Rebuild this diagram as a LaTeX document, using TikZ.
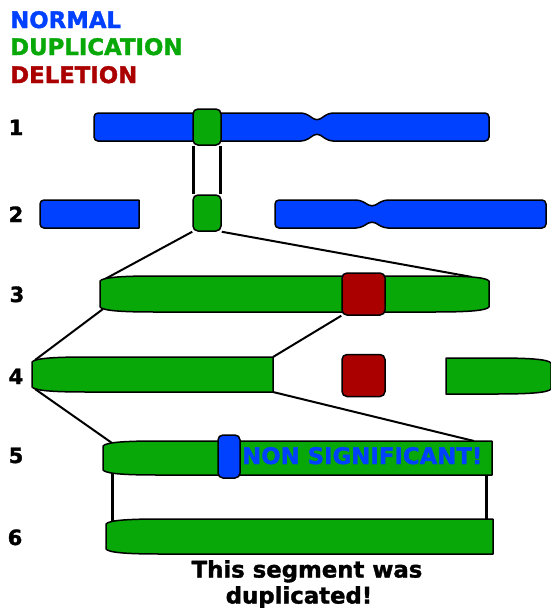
\documentclass[tikz,border=0pt]{standalone}
\usepackage{fontspec}
\setmainfont{DejaVu Sans}
\newfontfamily\heavyfont{DejaVu Sans}[BoldFeatures={FakeBold=1.5}]
\usetikzlibrary{backgrounds}
\definecolor{normalblue}{RGB}{0,64,255}
\definecolor{dupgreen}{RGB}{8,168,8}
\definecolor{delred}{RGB}{170,0,0}
\tikzset{
  chromo/.style={draw=black, line width=1.5pt, line join=round},
  normalchrom/.style={chromo, fill=normalblue},
  dupchrom/.style={chromo, fill=dupgreen},
  segbox/.style={draw=black, line width=1.5pt, rounded corners=5pt, inner sep=0pt},
  dupbox/.style={segbox, fill=dupgreen, minimum width=28pt, minimum height=36pt},
  delbox/.style={segbox, fill=delred, minimum width=43pt, minimum height=42pt},
  markbox/.style={segbox, fill=normalblue, minimum width=22pt, minimum height=43pt},
  heavytext/.style={font=\heavyfont\fontsize{22.8}{26}\selectfont\bfseries, inner sep=0pt},
  legend/.style={heavytext, anchor=base west},
  rowlabel/.style={font=\heavyfont\fontsize{21}{25}\selectfont\bfseries, anchor=base, inner sep=0pt},
  link/.style={draw=black, line width=2pt},
  tether/.style={draw=black, line width=3pt},
}
\begin{document}
\begin{tikzpicture}[x=1pt, y=-1pt]
\useasboundingbox (0,0) rectangle (550,608);

% legend
\node[legend, text=normalblue] (lnormal) at (10,28) {NORMAL};
\node[legend, text=dupgreen]   (ldup)    at (10,55) {DUPLICATION};
\node[legend, text=delred]     (ldel)    at (10,83) {DELETION};

% row numbers
\node[rowlabel] (n1) at (16,135) {1};
\node[rowlabel] (n2) at (16,222) {2};
\node[rowlabel] (n3) at (17,302) {3};
\node[rowlabel] (n4) at (16,384) {4};
\node[rowlabel] (n5) at (16,463) {5};
\node[rowlabel] (n6) at (15,545) {6};

% row 1: normal chromosome with centromere
\draw[normalchrom, rounded corners=4pt]
  (94,113) -- (305,113) -- (317,121) -- (329,113) -- (489,113) -- (489,141)
  -- (329,141) -- (317,133) -- (305,141) -- (94,141) -- cycle;
\node[dupbox] (g1) at (207,127) {};

% row 2: the segment cut out
\draw[normalchrom]
  (139,200) -- (139,228) -- (44,228) .. controls (41.8,228) and (40,226.2) .. (40,224)
  -- (40,204) .. controls (40,201.8) and (41.8,200) .. (44,200) -- cycle;
\draw[normalchrom, rounded corners=4pt]
  (275,200) -- (360,200) -- (372,207) -- (384,200) -- (546,200) -- (546,228)
  -- (384,228) -- (372,221) -- (360,228) -- (275,228) -- cycle;
\node[dupbox] (g2) at (207,213) {};

% row 3: duplicated segment, magnified
\draw[dupchrom]
  (100,281) .. controls (103,277) and (125,276) .. (155,276) -- (434,276)
  .. controls (464,276) and (486,277) .. (489,281) -- (489,307)
  .. controls (486,311) and (464,312) .. (434,312) -- (155,312)
  .. controls (125,312) and (103,311) .. (100,307) -- cycle;
\node[delbox] (r3) at (363.5,294) {};
\coordinate (c3tl) at (105,279);
\coordinate (c3tr) at (472,277);
\coordinate (c3bl) at (103,309);

% row 4: deletion inside the segment
\draw[dupchrom]
  (32,362) .. controls (35,358) and (57,357) .. (87,357) -- (273,357)
  -- (273,392) -- (87,392) .. controls (57,392) and (35,391) .. (32,387) -- cycle;
\node[delbox] (r4) at (363.5,375.5) {};
\draw[dupchrom]
  (446,358) -- (496,358) .. controls (526,358) and (548,359) .. (551,363)
  -- (551,389) .. controls (548,393) and (526,394) .. (496,394) -- (446,394) -- cycle;
\coordinate (c4tl) at (35,360);
\coordinate (c4tr) at (273,357);
\coordinate (c4bl) at (35,389);
\coordinate (c4br) at (273,392);

% row 5: rejoined segment with a small insertion
\draw[dupchrom]
  (103,446) .. controls (106,442) and (128,441) .. (158,441) -- (492,441)
  -- (492,475) -- (158,475) .. controls (128,475) and (106,474) .. (103,470) -- cycle;
\node[markbox] (b5) at (229,456.5) {};
\node[heavytext, anchor=base west, text=normalblue] (nonsig) at (242,464) {NON SIGNIFICANT!};
\coordinate (c5tl) at (112,443);
\coordinate (c5tr) at (474,441);
\coordinate (c5bl) at (112,472);
\coordinate (c5br) at (486,472);

% row 6: final duplicated segment
\draw[dupchrom]
  (106,524) .. controls (109,520) and (131,519) .. (161,519) -- (493,519)
  -- (493,554) -- (161,554) .. controls (131,554) and (109,553) .. (106,549) -- cycle;
\coordinate (c6tl) at (112,526);
\coordinate (c6tr) at (486,523);

\node[heavytext, align=center, anchor=north] (caption) at (307,560)
  {This segment was\\duplicated!\hspace*{16pt}};

% connectors behind the shapes
\begin{scope}[on background layer]
  \draw[tether] ([xshift=1.5pt]g1.south west) -- ([xshift=1.5pt]g2.north west);
  \draw[tether] ([xshift=-1.5pt]g1.south east) -- ([xshift=-1.5pt]g2.north east);
  \draw[link] (g2.south west) -- (c3tl);
  \draw[link] (g2.south east) -- (c3tr);
  \draw[link] (c3bl) -- (c4tl);
  \draw[link] (r3.south west) -- (c4tr);
  \draw[link] (c4bl) -- (c5tl);
  \draw[link] (c4br) -- (c5tr);
  \draw[tether] (c5bl) -- (c6tl);
  \draw[tether] (c5br) -- (c6tr);
\end{scope}
\end{tikzpicture}
\end{document}
